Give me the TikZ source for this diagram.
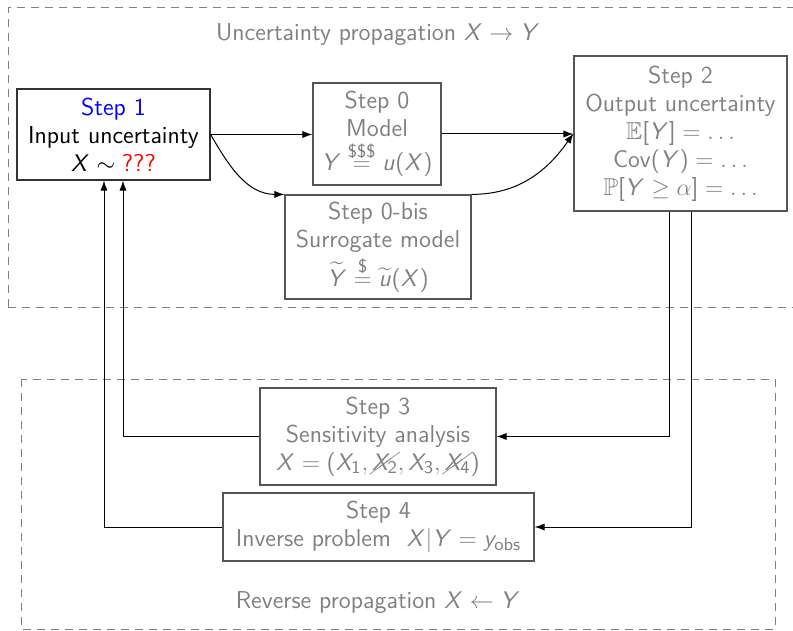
\documentclass[tikz,border=0pt]{standalone}
\usepackage{amsmath,amssymb}
\usepackage{cancel}
\usetikzlibrary{arrows.meta,calc}
\DeclareSymbolFont{sfletters}{OT1}{cmss}{m}{sl}
\SetSymbolFont{operators}{normal}{OT1}{cmss}{m}{n}
\DeclareMathSymbol{X}{\mathalpha}{sfletters}{`X}
\DeclareMathSymbol{Y}{\mathalpha}{sfletters}{`Y}
\DeclareMathSymbol{u}{\mathalpha}{sfletters}{`u}
\DeclareMathSymbol{y}{\mathalpha}{sfletters}{`y}
\definecolor{txtgray}{RGB}{128,128,128}
\definecolor{boxgray}{RGB}{85,85,85}
\tikzset{
  every node/.style={font=\sffamily\fontsize{12.2}{14}\selectfont},
  stepbox/.style={draw=boxgray, line width=0.6pt, align=center, inner sep=0pt, text=txtgray},
  firstbox/.style={draw=black!80, line width=0.6pt, align=center, inner sep=0pt},
  arr/.style={-{Latex[length=5pt,width=3.6pt]}, line width=0.5pt, black},
  region/.style={draw=txtgray, dash pattern=on 4pt off 3pt, line width=0.5pt},
  lbl/.style={text=txtgray}
}
\begin{document}
\begin{tikzpicture}[x=0.5pt,y=-0.5pt]
\useasboundingbox (0,0) rectangle (793,631);
\draw[region] (8,307) -- (8,8) -- (800,8);
\draw[region] (8,307) -- (800,307);
\draw[region] (21,379) rectangle (775,629);
\node[lbl] (top) at (378,35) {Uncertainty propagation $X\to Y$};
\node[lbl] (bot) at (378,603) {Reverse propagation $X\leftarrow Y$};
\node[firstbox, minimum width=96.5pt, minimum height=45.5pt] (s1) at (113.5,134.5)
  {{\color{blue}Step 1}\\Input uncertainty\\$X\sim{}${\color{red}???}};
\node[stepbox, minimum width=64pt, minimum height=51pt] (s0) at (377,134)
  {Step 0\\Model\\[1pt]$Y\overset{\$\$\$}{=}u(X)$};
\node[stepbox, minimum width=93pt, minimum height=52pt] (s0b) at (378,247)
  {Step 0-bis\\Surrogate model\\[1pt]$\widetilde{Y}\overset{\$}{=}\widetilde{u}(X)$};
\node[stepbox, minimum width=106.5pt, minimum height=77.5pt] (s2) at (680.5,133.5)
  {Step 2\\Output uncertainty\\$\mathbb{E}[Y]=\ldots$\\$\mathrm{Cov}(Y)=\ldots$\\$\mathbb{P}[Y\geq\alpha]=\ldots$};
\node[stepbox, minimum width=118pt, minimum height=48.5pt] (s3) at (378,436.5)
  {Step 3\\Sensitivity analysis\\$X=(X_1,\cancel{X_2},X_3,\cancel{X_4})$};
\node[stepbox, minimum width=155.5pt, minimum height=34pt] (s4) at (378.5,527)
  {Step 4\\Inverse problem\ \ $X|Y=y_{\mathrm{obs}}$};
\draw[arr] (s1.east) -- (s1.east -| s0.west);
\draw[arr] (s1.east) to[out=-60,in=180] (s0b.north west);
\draw[arr] (s0.east) -- (s0.east -| s2.west);
\draw[arr] (s0b.north east) to[out=0,in=-125] (s2.west);
\draw[arr] ([xshift=-5.75pt]s2.south) |- (s3.east);
\draw[arr] ([xshift=5.25pt]s2.south) |- (s4.east);
\draw[arr] (s3.west) -| ([xshift=4.75pt]s1.south);
\draw[arr] (s4.west) -| ([xshift=-4.75pt]s1.south);
\end{tikzpicture}
\end{document}
